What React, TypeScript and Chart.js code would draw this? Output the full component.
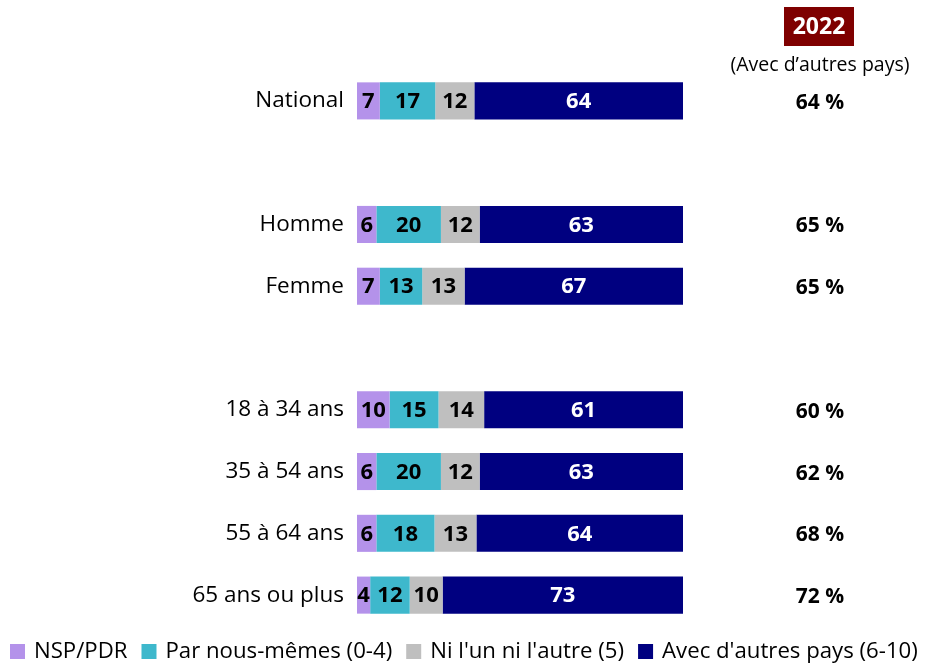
import React, { useEffect, useRef } from "react";
import { Chart, registerables } from "chart.js";

Chart.register(...registerables);

const categories = ["National", "", "Homme", "Femme", "", "18 à 34 ans", "35 à 54 ans", "55 à 64 ans", "65 ans ou plus"];
const nsp = [7, null, 6, 7, null, 10, 6, 6, 4];
const parNous = [17, null, 20, 13, null, 15, 20, 18, 12];
const niLun = [12, null, 12, 13, null, 14, 12, 13, 10];
const avecAutres = [64, null, 63, 67, null, 61, 63, 64, 73];
const prev2022 = ["64 %", "", "65 %", "65 %", "", "60 %", "62 %", "68 %", "72 %"];
const seriesNames = ["NSP/PDR", "Par nous-mêmes (0-4)", "Ni l'un ni l'autre (5)", "Avec d'autres pays (6-10)"];
const seriesColors = ["#B492EA", "#3EB8CC", "#BFBFBF", "#000080"];
const labelColors = ["#000000", "#000000", "#000000", "#FFFFFF"];
const headerYear = "2022";
const headerSub = "(Avec d\u2019autres pays)";

const FONT = "'Open Sans', sans-serif";

export default function App() {
  const ref = useRef<HTMLCanvasElement | null>(null);
  useEffect(() => {
    const raw = [nsp, parNous, niLun, avecAutres];
    const totals = categories.map((_, i) =>
      raw.reduce((s, arr) => s + ((arr[i] as number) || 0), 0)
    );
    const datasets = raw.map((arr, k) => ({
      label: seriesNames[k],
      data: arr.map((v, i) => (v == null ? null : ((v as number) * 100) / totals[i])),
      backgroundColor: seriesColors[k],
      borderWidth: 0,
      categoryPercentage: 1,
      barPercentage: 0.6,
    }));

    const labelPlugin = {
      id: "labels",
      afterDatasetsDraw(chart: any) {
        const ctx = chart.ctx;
        ctx.save();
        ctx.textAlign = "center";
        ctx.textBaseline = "middle";
        ctx.font = `bold 22px ${FONT}`;
        chart.data.datasets.forEach((ds: any, k: number) => {
          const meta = chart.getDatasetMeta(k);
          meta.data.forEach((el: any, i: number) => {
            const v = raw[k][i];
            if (v == null) return;
            ctx.fillStyle = labelColors[k];
            ctx.fillText(String(v), (el.x + el.base) / 2, el.y + 1);
          });
        });
        // right column
        const y = chart.scales.y;
        const cx = 820;
        ctx.fillStyle = "#000";
        ctx.font = `bold 21px ${FONT}`;
        prev2022.forEach((t, i) => {
          if (!t) return;
          ctx.fillText(t, cx, y.getPixelForValue(i) + 2);
        });
        // header
        ctx.fillStyle = "#7F0000";
        ctx.fillRect(784, 7, 70, 39);
        ctx.fillStyle = "#FFFFFF";
        ctx.font = `bold 23px ${FONT}`;
        ctx.fillText(headerYear, 819, 27);
        ctx.fillStyle = "#000";
        ctx.font = `19.5px ${FONT}`;
        ctx.fillText(headerSub, 820, 65);
        // legend
        ctx.font = `22.2px ${FONT}`;
        ctx.textAlign = "left";
        let x = 10;
        const ly = 651;
        seriesNames.forEach((n, k) => {
          ctx.fillStyle = seriesColors[k];
          ctx.fillRect(x, ly - 7, 15, 15);
          x += 24;
          ctx.fillStyle = "#000";
          ctx.fillText(n, x, ly + 1);
          x += ctx.measureText(n).width + 14;
        });
        ctx.restore();
      },
    };

    const chart = new Chart(ref.current as HTMLCanvasElement, {
      type: "bar",
      data: { labels: categories, datasets: datasets as any },
      options: {
        indexAxis: "y",
        animation: false,
        responsive: true,
        maintainAspectRatio: false,
        layout: { padding: { top: 70, bottom: 38, right: 247, left: 0 } },
        plugins: { legend: { display: false }, tooltip: { enabled: false } },
        scales: {
          x: { stacked: true, min: 0, max: 100, display: false },
          y: {
            stacked: true,
            grid: { display: false, drawTicks: false },
            border: { display: false },
            ticks: { color: "#000", font: { family: FONT, size: 22.5 }, padding: 13 },
            afterFit(scale: any) {
              scale.width = 357;
            },
          },
        },
      },
      plugins: [labelPlugin],
    });
    return () => chart.destroy();
  }, []);
  return (
    <div style={{ position: "absolute", left: 0, top: 0, width: 930, height: 664 }}>
      <canvas ref={ref} />
    </div>
  );
}
